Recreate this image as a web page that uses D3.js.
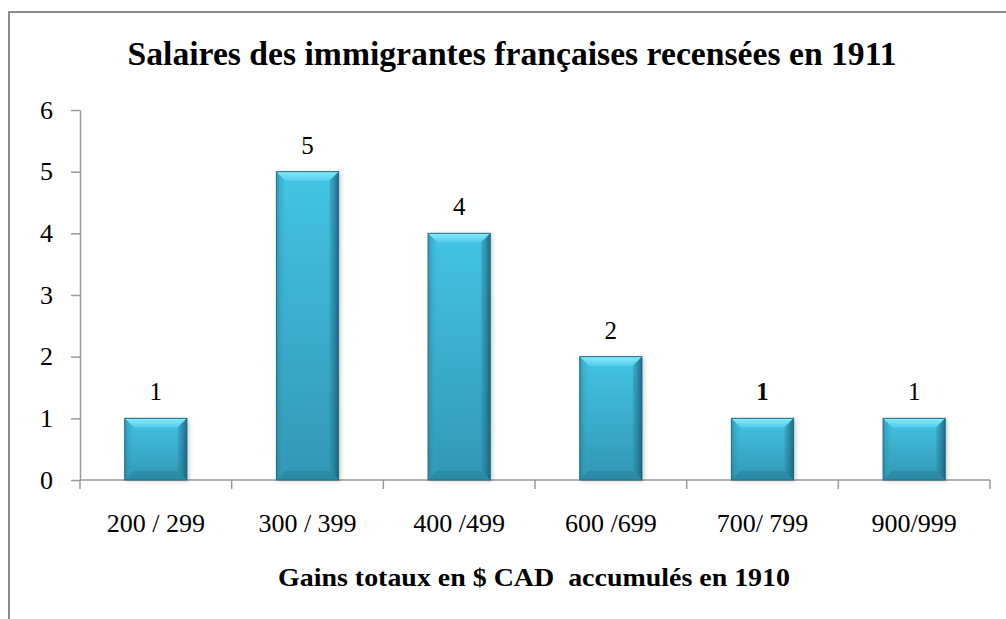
<!DOCTYPE html>
<html><head><meta charset="utf-8">
<script src="https://cdn.jsdelivr.net/npm/d3@7"></script>
<style>
html,body{margin:0;padding:0;background:#fff;}
svg{display:block;}
svg text{font-family:'Liberation Serif','Times New Roman',Times,'DejaVu Serif',serif !important;white-space:pre;}
</style></head>
<body>
<svg id="c" width="1006" height="619"></svg>
<script>
const categories = ["200 / 299", "300 / 399", "400 /499", "600 /699", "700/ 799", "900/999"];
const values = [1, 5, 4, 2, 1, 1];
const yTicks = [0, 1, 2, 3, 4, 5, 6];
const title = "Salaires des immigrantes françaises recensées en 1911";
const xTitle = "Gains totaux en $ CAD  accumulés en 1910";

const FONT = "'Liberation Serif','Times New Roman',Times,'DejaVu Serif',serif";
const svg = d3.select("#c");
const plotL = 80, plotR = 990, plotT = 110, plotB = 480;

// frame
svg.append("rect").attr("x", 9).attr("y", 12).attr("width", 1100).attr("height", 700)
  .attr("fill", "#fff").attr("stroke", "#8c8c8c").attr("stroke-width", 2);

const x = d3.scaleBand().domain(categories).range([plotL, plotR]).paddingInner(0.59).paddingOuter(0.295);
const y = d3.scaleLinear().domain([0, 6]).range([plotB, plotT]);

const defs = svg.append("defs");
const g1 = defs.append("linearGradient").attr("id", "body").attr("x1", 0).attr("y1", 0).attr("x2", 0).attr("y2", 1);
g1.append("stop").attr("offset", "0%").attr("stop-color", "#44c4e6");
g1.append("stop").attr("offset", "100%").attr("stop-color", "#3197b4");
const g2 = defs.append("linearGradient").attr("id", "topb").attr("x1", 0).attr("y1", 0).attr("x2", 0).attr("y2", 1);
g2.append("stop").attr("offset", "0%").attr("stop-color", "#8aeafb");
g2.append("stop").attr("offset", "100%").attr("stop-color", "#52cdea");
const g3 = defs.append("linearGradient").attr("id", "rb").attr("x1", 0).attr("y1", 0).attr("x2", 1).attr("y2", 0);
g3.append("stop").attr("offset", "0%").attr("stop-color", "#2a8aa6").attr("stop-opacity", 0.4);
g3.append("stop").attr("offset", "100%").attr("stop-color", "#175b70").attr("stop-opacity", 0.85);
const g4 = defs.append("linearGradient").attr("id", "lb").attr("x1", 0).attr("y1", 0).attr("x2", 1).attr("y2", 0);
g4.append("stop").attr("offset", "0%").attr("stop-color", "#25809b").attr("stop-opacity", 0.6);
g4.append("stop").attr("offset", "100%").attr("stop-color", "#3aaed0").attr("stop-opacity", 0.1);
const f = defs.append("filter").attr("id", "sh").attr("x", "-20%").attr("y", "-20%").attr("width", "140%").attr("height", "140%");
f.append("feDropShadow").attr("dx", 2).attr("dy", 1).attr("stdDeviation", 2).attr("flood-color", "#000").attr("flood-opacity", 0.22);

// axes
const yAxis = d3.axisLeft(y).tickValues(yTicks).tickSize(9).tickSizeOuter(0).tickPadding(18).tickFormat(d3.format("d"));
const ya = svg.append("g").attr("transform", `translate(${plotL},0)`).call(yAxis);
ya.attr("font-family", FONT);
ya.select(".domain").attr("stroke", "#9a9a9a").attr("stroke-width", 1.5);
ya.selectAll(".tick line").attr("stroke", "#9a9a9a").attr("stroke-width", 1.5);
ya.selectAll(".tick text").attr("font-size", 26).attr("fill", "#000").attr("font-family", FONT);

const xa = svg.append("g").attr("transform", `translate(0,${plotB})`);
xa.append("line").attr("x1", plotL).attr("x2", plotR).attr("stroke", "#9a9a9a").attr("stroke-width", 1.5);
const bounds = categories.map(c => x(c) - x.step() * x.paddingInner() / 2).concat([plotR]);
xa.selectAll(".xt").data(bounds).join("line")
  .attr("x1", d => d).attr("x2", d => d).attr("y1", 0).attr("y2", 9)
  .attr("stroke", "#9a9a9a").attr("stroke-width", 1.5);
xa.selectAll(".xl").data(categories).join("text")
  .attr("x", d => x(d) + x.bandwidth() / 2).attr("y", 52)
  .attr("text-anchor", "middle").attr("font-size", 26).attr("font-family", FONT).text(d => d);

// bars
const data = categories.map((c, i) => ({ c, v: values[i] }));
const bars = svg.selectAll(".bar").data(data).join("g").attr("class", "bar");
bars.each(function (d) {
  const g = d3.select(this);
  const bx = x(d.c), bw = x.bandwidth(), by = y(d.v), bh = y(0) - y(d.v), b = 9;
  g.append("rect").attr("x", bx).attr("y", by).attr("width", bw).attr("height", bh)
    .attr("fill", "url(#body)").attr("filter", "url(#sh)");
  g.append("polygon").attr("points", [[bx, by], [bx + bw, by], [bx + bw - b, by + b], [bx + b, by + b]].join(" "))
    .attr("fill", "url(#topb)");
  g.append("polygon").attr("points", [[bx, by], [bx + b, by + b], [bx + b, by + bh - b], [bx, by + bh]].join(" "))
    .attr("fill", "url(#lb)");
  g.append("polygon").attr("points", [[bx + bw, by], [bx + bw - b, by + b], [bx + bw - b, by + bh - b], [bx + bw, by + bh]].join(" "))
    .attr("fill", "url(#rb)");
  g.append("polygon").attr("points", [[bx, by + bh], [bx + b, by + bh - b], [bx + bw - b, by + bh - b], [bx + bw, by + bh]].join(" "))
    .attr("fill", "#1f6b82").attr("fill-opacity", 0.3);
  g.append("rect").attr("x", bx).attr("y", by).attr("width", bw).attr("height", bh)
    .attr("fill", "none").attr("stroke", "#1e6d84").attr("stroke-width", 1);
  g.append("text").attr("x", bx + bw / 2).attr("y", by - 18).attr("text-anchor", "middle")
    .attr("font-family", FONT).attr("font-size", 25)
    .attr("font-weight", d.c === "700/ 799" ? "bold" : "normal").text(d.v);
});

// titles
svg.append("text").attr("x", 512).attr("y", 65).attr("text-anchor", "middle")
  .attr("font-family", FONT).attr("font-size", 33).attr("font-weight", "bold")
  .attr("textLength", 769).attr("lengthAdjust", "spacingAndGlyphs").text(title);
svg.append("text").attr("x", 534).attr("y", 586).attr("text-anchor", "middle")
  .attr("font-family", FONT).attr("font-size", 25).attr("font-weight", "bold")
  .attr("textLength", 512).attr("lengthAdjust", "spacingAndGlyphs").text(xTitle);
</script>
</body></html>
